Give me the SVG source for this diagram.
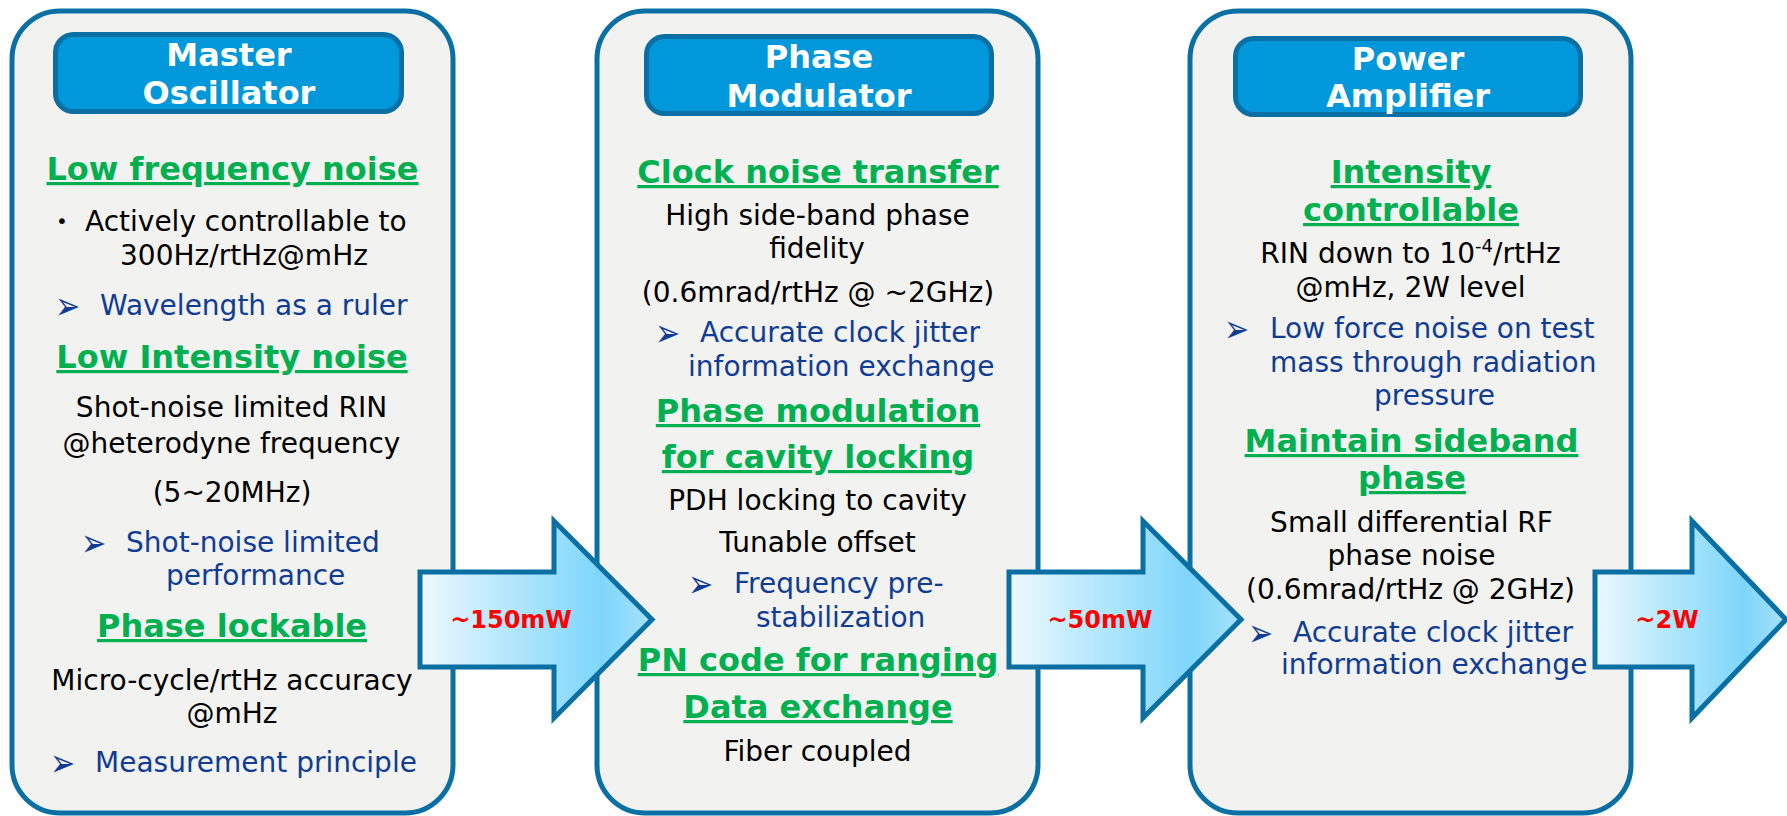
<svg xmlns="http://www.w3.org/2000/svg" width="1787" height="816" viewBox="0 0 1787 816">
<defs>
<linearGradient id="ag" x1="0" y1="0" x2="1" y2="0">
<stop offset="0" stop-color="#eef9fe"/>
<stop offset="0.35" stop-color="#b9e9fc"/>
<stop offset="0.78" stop-color="#7ed6fb"/>
<stop offset="1" stop-color="#a6e2fb"/>
</linearGradient>
<style>
.panel{fill:#f2f2f1;stroke:#0a6fa3;stroke-width:5}
.hdr{fill:#0098da;stroke:#0a6fa3;stroke-width:5}
.ht{font-family:"DejaVu Sans",Verdana,sans-serif;font-weight:bold;font-size:32px;fill:#ffffff;text-anchor:middle}
.h{font-family:"DejaVu Sans",Verdana,sans-serif;font-weight:bold;font-size:32px;fill:#00b050;text-decoration:underline;text-anchor:middle}
.t{font-family:"DejaVu Sans",Verdana,sans-serif;font-size:28px;fill:#000000}
.c{text-anchor:middle}
.b{fill:#103c94}
.dot{font-family:"DejaVu Sans",sans-serif;font-size:20px;fill:#000000;text-anchor:middle}
.bul{font-family:"DejaVu Sans",sans-serif;font-size:24px;font-weight:bold;fill:#103c94}
.arrow{fill:url(#ag);stroke:#0a6fa3;stroke-width:5;stroke-linejoin:miter}
.lbl{font-family:"DejaVu Sans",Verdana,sans-serif;font-weight:bold;font-size:24px;fill:#ff0000;text-anchor:middle}
</style>
</defs>

<g id="master-oscillator">
<rect class="panel" x="12" y="11" width="441" height="802" rx="48"/>
<rect class="hdr" x="55.5" y="34.5" width="346" height="77" rx="18"/>
<text class="ht" x="229" y="66">Master</text>
<text class="ht" x="229" y="104">Oscillator</text>
<text class="h" x="232.5" y="180">Low frequency noise</text>
<text class="dot" x="62" y="228">•</text>
<text class="t" x="85" y="231">Actively controllable to</text>
<text class="t" x="120" y="265">300Hz/rtHz@mHz</text>
<text class="bul" transform="translate(55,318.7) scale(1.25,1.6)">➢</text>
<text class="t b" x="100" y="315">Wavelength as a ruler</text>
<text class="h" x="232" y="368">Low Intensity noise</text>
<text class="t c" x="231.5" y="417">Shot-noise limited RIN</text>
<text class="t c" x="231.5" y="453">@heterodyne frequency</text>
<text class="t c" x="232" y="502">(5~20MHz)</text>
<text class="bul" transform="translate(81,555.7) scale(1.25,1.6)">➢</text>
<text class="t b" x="126" y="552">Shot-noise limited</text>
<text class="t b" x="166" y="585">performance</text>
<text class="h" x="232" y="637">Phase lockable</text>
<text class="t c" x="232" y="690">Micro-cycle/rtHz accuracy</text>
<text class="t c" x="232" y="723">@mHz</text>
<text class="bul" transform="translate(50,775.7) scale(1.25,1.6)">➢</text>
<text class="t b" x="95" y="772">Measurement principle</text>
</g>

<g id="phase-modulator">
<rect class="panel" x="597" y="11" width="441" height="802" rx="48"/>
<rect class="hdr" x="646.5" y="36.5" width="345" height="77" rx="18"/>
<text class="ht" x="819" y="68">Phase</text>
<text class="ht" x="819" y="107">Modulator</text>
<text class="h" x="818" y="183">Clock noise transfer</text>
<text class="t c" x="817.5" y="225">High side-band phase</text>
<text class="t c" x="817" y="258">fidelity</text>
<text class="t c" x="818" y="302">(0.6mrad/rtHz @ ~2GHz)</text>
<text class="bul" transform="translate(655,345.7) scale(1.25,1.6)">➢</text>
<text class="t b" x="700" y="342">Accurate clock jitter</text>
<text class="t b" x="688" y="376">information exchange</text>
<text class="h" x="818" y="422">Phase modulation</text>
<text class="h" x="818" y="468">for cavity locking</text>
<text class="t c" x="817.5" y="510">PDH locking to cavity</text>
<text class="t c" x="817.5" y="552">Tunable offset</text>
<text class="bul" transform="translate(688,596.7) scale(1.25,1.6)">➢</text>
<text class="t b" x="734" y="593">Frequency pre-</text>
<text class="t b" x="756" y="627">stabilization</text>
<text class="h" x="818" y="671">PN code for ranging</text>
<text class="h" x="818" y="718">Data exchange</text>
<text class="t c" x="817.5" y="761">Fiber coupled</text>
</g>

<g id="power-amplifier">
<rect class="panel" x="1190" y="11" width="441" height="802" rx="48"/>
<rect class="hdr" x="1235.5" y="38.5" width="345" height="76" rx="18"/>
<text class="ht" x="1408" y="70">Power</text>
<text class="ht" x="1408" y="107">Amplifier</text>
<text class="h" x="1411" y="183">Intensity</text>
<text class="h" x="1411" y="221">controllable</text>
<text class="t c" x="1410.5" y="263">RIN down to 10<tspan font-size="18" dy="-11">-4</tspan><tspan dy="11">/rtHz</tspan></text>
<text class="t c" x="1410.5" y="297">@mHz, 2W level</text>
<text class="bul" transform="translate(1224,341.7) scale(1.25,1.6)">➢</text>
<text class="t b" x="1270" y="338">Low force noise on test</text>
<text class="t b" x="1270" y="372">mass through radiation</text>
<text class="t b" x="1374" y="405">pressure</text>
<text class="h" x="1411.5" y="452">Maintain sideband</text>
<text class="h" x="1412" y="489">phase</text>
<text class="t c" x="1411.5" y="532">Small differential RF</text>
<text class="t c" x="1411.5" y="565">phase noise</text>
<text class="t c" x="1410.5" y="599">(0.6mrad/rtHz @ 2GHz)</text>
<text class="bul" transform="translate(1248,645.7) scale(1.25,1.6)">➢</text>
<text class="t b" x="1293" y="642">Accurate clock jitter</text>
<text class="t b" x="1281" y="674">information exchange</text>
</g>

<g id="connectors">
<g id="arrow-1">
<path class="arrow" d="M420,572 H554 V521 L652,619.5 L554,718 V667 H420 Z"/>
<text class="lbl" x="511" y="628">~150mW</text>
</g>
<g id="arrow-2">
<path class="arrow" d="M1009,572 H1143 V521 L1241,619.5 L1143,718 V667 H1009 Z"/>
<text class="lbl" x="1100" y="628">~50mW</text>
</g>
<g id="arrow-3">
<path class="arrow" d="M1595,572 H1692 V521 L1786,619.5 L1692,718 V667 H1595 Z"/>
<text class="lbl" x="1667" y="628">~2W</text>
</g>
</g>
</svg>
